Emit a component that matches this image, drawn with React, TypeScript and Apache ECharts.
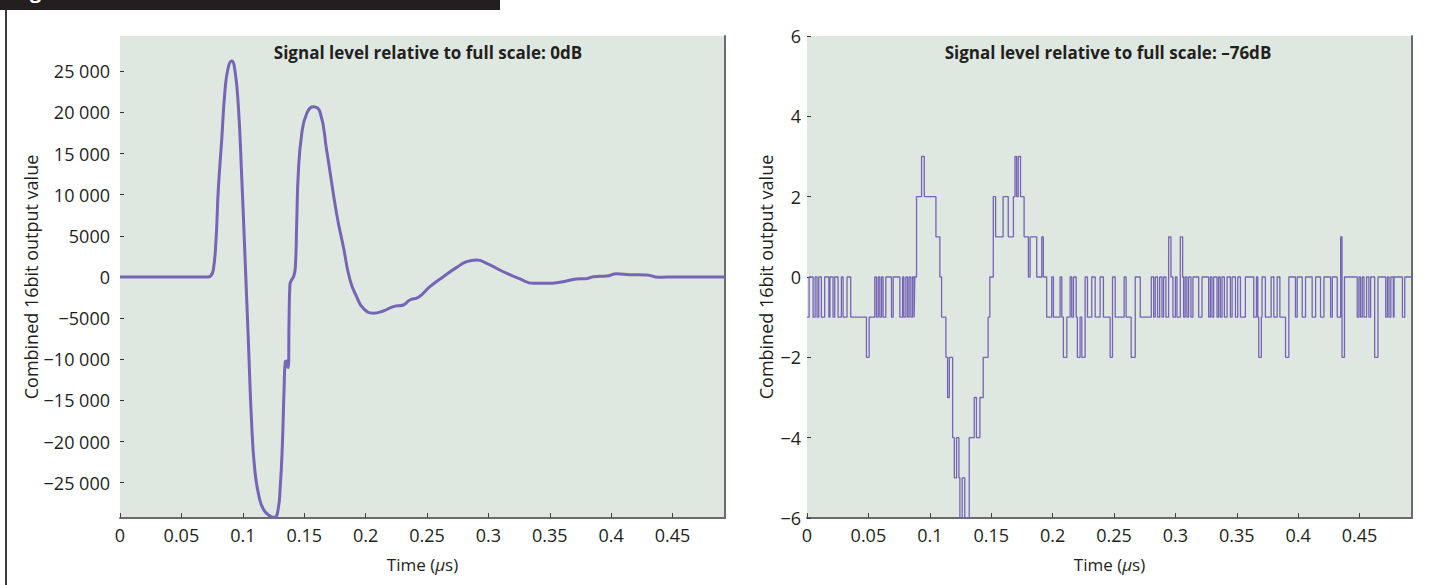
import React, { useEffect, useRef } from "react";
import * as echarts from "echarts";

// ---- data ----
const X_MAX = 0.4927;
const LEFT_LIMIT = 29300;

const xTicks = [0, 0.05, 0.1, 0.15, 0.2, 0.25, 0.3, 0.35, 0.4, 0.45];
const leftYTicks = [-25000, -20000, -15000, -10000, -5000, 0, 5000, 10000, 15000, 20000, 25000];
const rightYTicks = [-6, -4, -2, 0, 2, 4, 6];

const titles = [
  "Signal level relative to full scale: 0dB",
  "Signal level relative to full scale: \u201376dB",
];
const yName = "Combined 16bit output value";
const figureLabel = "Figure 1";

// left panel: 0 dB waveform (time in µs, combined output value)
const leftTimes = [
  0, 0.02, 0.04, 0.06, 0.0717, 0.074, 0.076, 0.0782, 0.08, 0.0828, 0.0855, 0.0882, 0.091, 0.0936,
  0.0964, 0.099, 0.1018, 0.1045, 0.1072, 0.11, 0.1135, 0.117, 0.1215, 0.1257, 0.1285, 0.1305,
  0.1322, 0.1336, 0.1346, 0.1358, 0.1366, 0.1371, 0.1377, 0.1384, 0.14, 0.1415, 0.1428, 0.1439,
  0.1452, 0.148, 0.152, 0.1574, 0.1629, 0.1683, 0.1764, 0.1819, 0.1873, 0.1927, 0.1981, 0.2063,
  0.2144, 0.2226, 0.2307, 0.236, 0.243, 0.2524, 0.2633, 0.2742, 0.2823, 0.2905, 0.2986, 0.3122,
  0.3257, 0.3366, 0.3475, 0.361, 0.3719, 0.38, 0.3855, 0.3963, 0.4045, 0.4153, 0.4289, 0.4384,
  0.4452, 0.4927,
];
const leftValues = [
  0, 0, 0, 0, 0, 150, 850, 4500, 10500, 16600, 22700, 25500, 26250, 25100,
  20700, 12600, 2460, -7650, -17760, -23800, -26900, -28300, -29000, -29250, -28500, -25500,
  -20500, -13700, -10300, -10200, -10900, -11000, -5000, -900, -300, 100, 1200, 6500,
  12600, 17400, 19850, 20700, 20060, 15400, 7700, 3680, -360, -2390, -3800, -4400,
  -4130, -3600, -3400, -2800, -2460, -1180, 40, 1170, 1860, 2060, 1660, 640,
  -240, -770, -770, -570, -240, -200, 40, 120, 400, 280, 240, -40,
  0, 0,
];

// right panel: -76 dB quantised output (value held from each time until the next)
const stepTimes = [
  0, 0.0017, 0.005, 0.0066, 0.0082, 0.0096, 0.0117, 0.0144, 0.0178, 0.0187, 0.0212, 0.0226, 0.0253,
  0.028, 0.0294, 0.0326, 0.0356, 0.0484, 0.0506, 0.0552, 0.0566, 0.058, 0.0593, 0.0607, 0.062,
  0.0642, 0.0688, 0.0702, 0.0756, 0.0778, 0.0789, 0.0805, 0.0819, 0.0832, 0.0846, 0.086, 0.0873,
  0.0878, 0.0892, 0.0933, 0.0955, 0.105, 0.1082, 0.1096, 0.1131, 0.1145, 0.1159, 0.1186, 0.12,
  0.1218, 0.1237, 0.1245, 0.1264, 0.1285, 0.1321, 0.1362, 0.138, 0.1408, 0.1435, 0.1475, 0.1489,
  0.1517, 0.1536, 0.1597, 0.1639, 0.1681, 0.1694, 0.1707, 0.172, 0.1739, 0.1768, 0.1803, 0.1817,
  0.1871, 0.1912, 0.1925, 0.1952, 0.1993, 0.2007, 0.2061, 0.2075, 0.2088, 0.2116, 0.2143, 0.2156,
  0.217, 0.2192, 0.2202, 0.2224, 0.2238, 0.2265, 0.2284, 0.2319, 0.2347, 0.2387, 0.2414, 0.2469,
  0.2488, 0.251, 0.2583, 0.2599, 0.264, 0.2673, 0.2714, 0.2804, 0.2823, 0.2836, 0.2855, 0.2872,
  0.2891, 0.2904, 0.2923, 0.2945, 0.2964, 0.298, 0.3, 0.3013, 0.304, 0.3059, 0.3067, 0.308,
  0.3094, 0.3108, 0.3127, 0.3143, 0.319, 0.3217, 0.3271, 0.3285, 0.3298, 0.3312, 0.3339, 0.3352,
  0.3366, 0.338, 0.3399, 0.3421, 0.3448, 0.3462, 0.3489, 0.3508, 0.353, 0.357, 0.3638, 0.366,
  0.3671, 0.3679, 0.37, 0.3706, 0.3733, 0.378, 0.3802, 0.3829, 0.3851, 0.3897, 0.3924, 0.3978,
  0.3992, 0.4033, 0.406, 0.4114, 0.4142, 0.4182, 0.421, 0.4264, 0.4278, 0.4318, 0.4346, 0.4357,
  0.4377, 0.4481, 0.4495, 0.4508, 0.4522, 0.4536, 0.4557, 0.4576, 0.459, 0.4623, 0.465, 0.4713,
  0.4727, 0.474, 0.4755, 0.4775, 0.4781, 0.4849, 0.4868, 0.4927,
];
const stepValues = [
  -1, 0, -1, 0, -1, 0, -1, 0, -1, 0, -1, 0, -1,
  0, -1, 0, -1, -2, -1, 0, -1, 0, -1, 0, -1,
  0, -1, 0, -1, 0, -1, 0, -1, 0, -1, 0, -1,
  0, 2, 3, 2, 1, 0, -1, -2, -3, -2, -4, -5,
  -4, -5, -6, -5, -6, -4, -3, -4, -3, -2, -1, 0,
  2, 1, 2, 1, 2, 3, 2, 3, 2, 1, 0, 1,
  0, 1, 0, -1, 0, -1, 0, -1, -2, -1, 0, -1,
  0, -1, -2, -1, -2, 0, -1, 0, -1, 0, -1, -2,
  0, -1, 0, -1, -2, 0, -1, 0, -1, 0, -1, 0,
  -1, 0, -1, 1, 0, -1, 0, -1, 1, 0, -1, 0,
  -1, 0, -1, 0, -1, 0, -1, 0, -1, 0, -1, 0,
  -1, 0, -1, 0, -1, 0, -1, 0, -1, 0, -1, 0,
  -1, -2, -1, 0, -1, 0, -1, 0, -1, -2, 0, -1,
  0, -1, 0, -1, 0, -1, 0, -1, 0, -1, 1, -2,
  0, -1, 0, -1, 0, -1, 0, -1, 0, -2, 0, -1,
  0, -1, 0, -1, 0, -1, 0, 0,
];

// ---- styling ----
const FONT = "'Open Sans', 'Noto Sans', sans-serif";
const TEXT = "#231f20";
const PLOT_BG = "#dfe8e0";
const LINE = "#7664b6";
const AXIS = "#6b6b6b";

const MINUS = "\u2212";
const fmtLeft = (v: number) => {
  const a = Math.abs(v);
  const s = a >= 10000 ? `${Math.floor(a / 1000)} ${String(a % 1000).padStart(3, "0")}` : String(a);
  return v < 0 ? MINUS + s : s;
};
const fmtRight = (v: number) => (v < 0 ? MINUS + Math.abs(v) : String(v));

export default function App() {
  const ref = useRef<HTMLDivElement>(null);

  useEffect(() => {
    if (!ref.current) return;
    const chart = echarts.init(ref.current, undefined, { renderer: "svg" });

    const labelStyle = { color: TEXT, fontSize: 18, fontFamily: FONT };
    const xNameStyle = {
      color: TEXT,
      fontSize: 17,
      fontFamily: FONT,
      rich: { i: { fontStyle: "italic", fontSize: 17, fontFamily: FONT, color: TEXT } },
    };
    const yNameStyle = { color: TEXT, fontSize: 18, fontFamily: FONT };

    const makeX = (gridIndex: number) => ({
      type: "value",
      gridIndex,
      min: 0,
      max: X_MAX,
      axisLine: { show: true, onZero: false, lineStyle: { color: AXIS, width: 2 } },
      axisTick: { show: true, inside: true, length: 5, customValues: xTicks, lineStyle: { color: "#444" } },
      axisLabel: { ...labelStyle, margin: 8, customValues: xTicks },
      splitLine: { show: false },
      name: "Time ({i|\u03bc}s)",
      nameLocation: "middle",
      nameGap: 38,
      nameTextStyle: xNameStyle,
    });

    const makeRightBorder = (gridIndex: number, min: number, max: number) => ({
      type: "value",
      gridIndex,
      position: "right",
      min,
      max,
      axisLine: { show: true, lineStyle: { color: AXIS, width: 2 } },
      axisTick: { show: false },
      axisLabel: { show: false },
      splitLine: { show: false },
    });

    const titleFont = `bold 17px ${FONT}`;
    const graphics: any[] = [
      { type: "rect", shape: { x: 0, y: 0, width: 500, height: 10 }, style: { fill: TEXT } },
      {
        type: "text",
        style: {
          text: figureLabel,
          x: 13,
          y: -10,
          fill: "#ffffff",
          font: `bold 20px ${FONT}`,
          align: "left",
          verticalAlign: "middle",
        },
      },
      { type: "line", shape: { x1: 6, y1: 10, x2: 6, y2: 585 }, style: { stroke: "#3c3c3c", lineWidth: 2 } },
      {
        type: "text",
        style: {
          text: titles[0],
          x: 428,
          y: 52,
          fill: TEXT,
          font: titleFont,
          align: "center",
          verticalAlign: "middle",
        },
      },
      {
        type: "text",
        style: {
          text: titles[1],
          x: 1108,
          y: 52,
          fill: TEXT,
          font: titleFont,
          align: "center",
          verticalAlign: "middle",
        },
      },
    ];

    chart.setOption({
      animation: false,
      backgroundColor: "#ffffff",
      textStyle: { fontFamily: FONT },
      grid: [
        { left: 120, top: 36, width: 605, height: 482, show: true, backgroundColor: PLOT_BG, borderWidth: 0 },
        { left: 807, top: 36, width: 605, height: 482, show: true, backgroundColor: PLOT_BG, borderWidth: 0 },
      ],
      xAxis: [makeX(0), makeX(1)],
      yAxis: [
        {
          type: "value",
          gridIndex: 0,
          min: -LEFT_LIMIT,
          max: LEFT_LIMIT,
          axisLine: { show: false },
          axisTick: { show: true, inside: true, length: 4, customValues: leftYTicks, lineStyle: { color: "#333" } },
          axisLabel: { ...labelStyle, margin: 10, customValues: leftYTicks, formatter: fmtLeft },
          splitLine: { show: false },
          name: yName,
          nameLocation: "middle",
          nameGap: 80,
          nameRotate: 90,
          nameTextStyle: yNameStyle,
        },
        makeRightBorder(0, -LEFT_LIMIT, LEFT_LIMIT),
        {
          type: "value",
          gridIndex: 1,
          min: -6,
          max: 6,
          interval: 2,
          axisLine: { show: false },
          axisTick: { show: true, inside: true, length: 4, customValues: rightYTicks, lineStyle: { color: "#333" } },
          axisLabel: { ...labelStyle, margin: 6, customValues: rightYTicks, formatter: fmtRight },
          splitLine: { show: false },
          name: yName,
          nameLocation: "middle",
          nameGap: 32,
          nameRotate: 90,
          nameTextStyle: yNameStyle,
        },
        makeRightBorder(1, -6, 6),
      ],
      series: [
        {
          type: "line",
          xAxisIndex: 0,
          yAxisIndex: 0,
          data: leftTimes.map((t, i) => [t, leftValues[i]]),
          showSymbol: false,
          smooth: 0.5,
          lineStyle: { color: LINE, width: 3 },
          silent: true,
        },
        {
          type: "line",
          xAxisIndex: 1,
          yAxisIndex: 2,
          data: stepTimes.map((t, i) => [t, stepValues[i]]),
          step: "end",
          showSymbol: false,
          lineStyle: { color: LINE, width: 1.3 },
          silent: true,
        },
      ],
      graphic: graphics,
    });

    return () => chart.dispose();
  }, []);

  return (
    <div
      ref={ref}
      style={{ position: "absolute", left: 0, top: 0, width: 1434, height: 585, background: "#fff" }}
    />
  );
}
